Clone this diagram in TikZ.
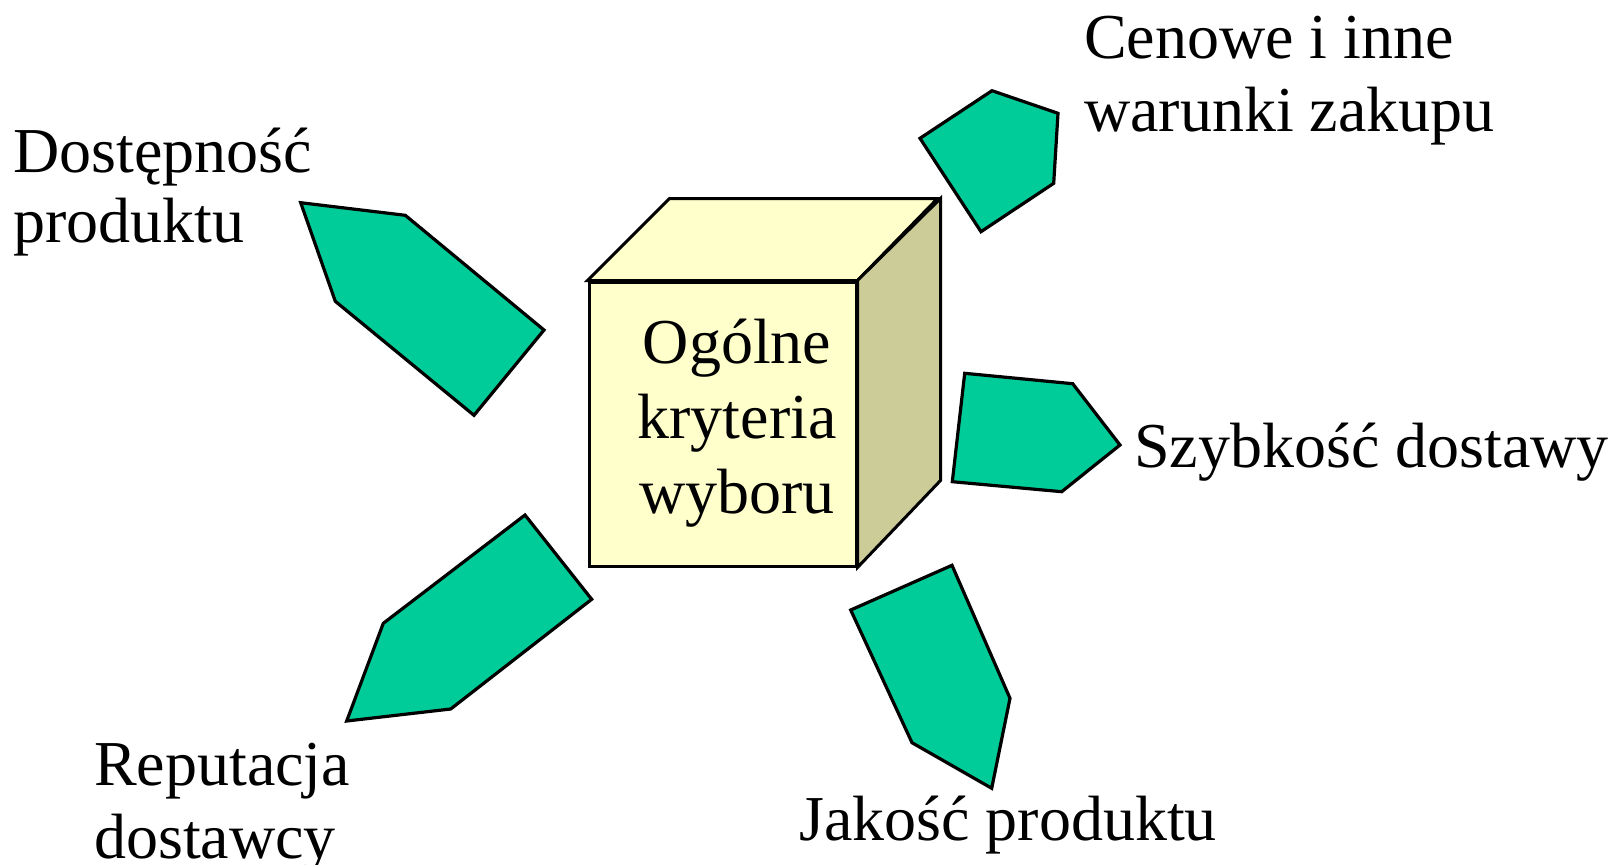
\documentclass[tikz,border=0pt]{standalone}
\usepackage{fontspec}
\setmainfont{Liberation Serif}
\definecolor{pgreen}{HTML}{00CC99}
\definecolor{cubefront}{HTML}{FFFFCC}
\definecolor{cubeside}{HTML}{CCCC99}
\begin{document}
\begin{tikzpicture}[x=1pt,y=-1pt,
  poly/.style={fill=pgreen,draw=black,line width=3.2pt,line join=miter},
  face/.style={draw=black,line width=3pt,line join=miter},
  lbl/.style={font=\fontsize{64}{73}\selectfont,inner sep=0pt,align=left,anchor=base west}]
\useasboundingbox (0,0) rectangle (1610,865);
% cube
\node[face,fill=cubefront,rectangle,minimum width=267pt,minimum height=284pt,inner sep=0pt] (cube) at (722.5,424) {};
\draw[face,fill=cubefront] (cube.north west) -- ++(82,-82) -- ++(268,0) -- (cube.north east) -- cycle;
\draw[face,fill=cubeside] (cube.north east) -- ++(83,-82) -- ++(0,282) -- (cube.south east) -- cycle;
\node[font=\fontsize{64}{75}\selectfont,inner sep=0pt,align=center,anchor=base] (crit) at (737,513) {Ogólne\\kryteria\\wyboru};
% arrows
\draw[poly] (300.7,202.7) -- (405.3,215.3) -- (544,330) -- (474,415.3) -- (335.3,301.3) -- cycle;
\draw[poly] (920,138.3) -- (992,90.7) -- (1058,113.3) -- (1053.7,183.3) -- (981,231.7) -- cycle;
\draw[poly] (964.7,373.3) -- (1072.7,383.7) -- (1120,445) -- (1061.7,491.7) -- (952.3,481.7) -- cycle;
\draw[poly] (525,515) -- (591.7,599.3) -- (450.7,709) -- (346.7,721) -- (383.3,623.3) -- cycle;
\draw[poly] (952,565.3) -- (1010,698.3) -- (991.7,788.3) -- (912,742.7) -- (850.7,610) -- cycle;
% labels
\node[lbl,font=\fontsize{64}{70}\selectfont] (dost) at (13,242) {Dostępność\\produktu};
\node[lbl] (cena) at (1084,131) {Cenowe i inne\\warunki zakupu};
\node[lbl] (szyb) at (1134,467) {Szybkość dostawy};
\node[lbl] (rep) at (94,858) {Reputacja\\dostawcy};
\node[lbl] (jak) at (799,840) {Jakość produktu};
\end{tikzpicture}
\end{document}
